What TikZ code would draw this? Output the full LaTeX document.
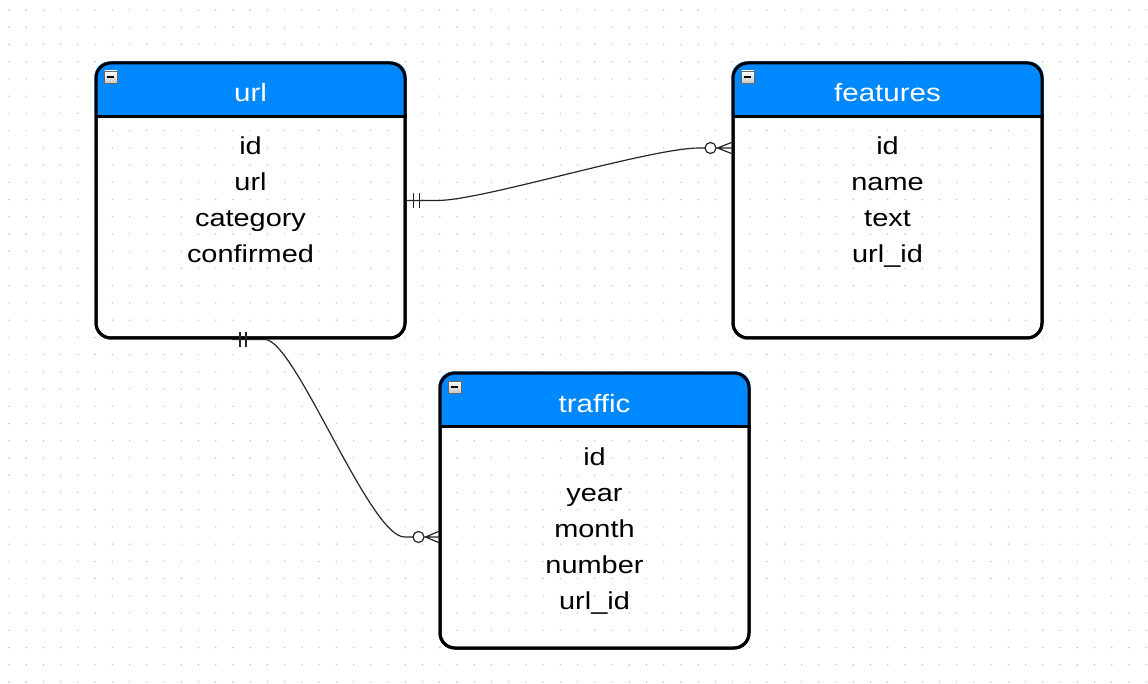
\documentclass[tikz,border=0pt]{standalone}
\usepackage{fontspec}
\newfontfamily\erfont[FakeStretch=1.18]{Liberation Sans}
\usetikzlibrary{calc}

\definecolor{headblue}{HTML}{0088FF}
\definecolor{griddot}{HTML}{C4C4C4}

\tikzset{
  tablebox/.style={draw=black, line width=3pt, rounded corners=15pt, inner sep=0pt,
    minimum width=309pt, minimum height=275pt, anchor=north west},
  headtext/.style={font=\erfont\fontsize{25}{29}\selectfont, text=white, anchor=base, inner sep=0pt},
  rowtext/.style={font=\erfont\fontsize{24.5}{29}\selectfont, text=black, anchor=base, inner sep=0pt},
  conn/.style={draw=black!85, line width=1.2pt},
  endmark/.style={draw=black!85, line width=1.2pt},
  ringmark/.style={draw=black!85, line width=1.2pt, fill=white},
  minusicon/.style={draw=gray!80!black, line width=0.8pt, top color=white, bottom color=gray!45},
}

% one entity table: name, top-left corner, title
\newcommand\ertable[3]{%
  \node[tablebox] (#1) at (#2) {};
  \fill[headblue] ($(#1.north west)+(0,55)$) [rounded corners=15pt] -- (#1.north west)
    -- (#1.north east) [sharp corners] -- ($(#1.north east)+(0,55)$) -- cycle;
  \node[tablebox] at (#2) {};
  \draw[line width=3pt] ($(#1.north west)+(0,55)$) -- ($(#1.north east)+(0,55)$);
  \path[minusicon] ($(#1.north west)+(10,9.5)$) rectangle ++(12.5,12.5);
  \draw[line width=1.8pt] ($(#1.north west)+(12.75,15.75)$) -- ++(7,0);
  \node[headtext] (#1-title) at ($(#1.north)+(0,40.5)$) {#3};
}

\begin{document}
\begin{tikzpicture}[x=1pt,y=-1pt]
  \useasboundingbox[fill=white] (0,0) rectangle (1148,684);

  % dotted background grid
  \foreach \i in {0,...,66}
    \foreach \j in {0,...,39}
      \fill[griddot] ({9+\i*17.23},{10+\j*17.23}) circle (0.8);

  % entities
  \ertable{url}{94.5,61.5}{url}
  \ertable{features}{731.5,61.5}{features}
  \ertable{traffic}{438.5,371.5}{traffic}

  \foreach \t [count=\k] in {id,url,category,confirmed}
    \node[rowtext] (url-r\k) at ($(url.north)+(0,57.5+36*\k)$) {\t};
  \foreach \t [count=\k] in {id,name,text,url\_id}
    \node[rowtext] (features-r\k) at ($(features.north)+(0,57.5+36*\k)$) {\t};
  \foreach \t [count=\k] in {id,year,month,number,url\_id}
    \node[rowtext] (traffic-r\k) at ($(traffic.north)+(0,57.5+36*\k)$) {\t};

  % relation url -- features (one to zero-or-many)
  \coordinate (a1) at (url.east);
  \coordinate (b1) at ($(features.north west)+(0,86.5)$);
  \draw[conn] (a1) -- ++(31,0) coordinate (p1)
    .. controls ($(p1)+(45,0)$) and ($(b1)+(-82,0)$) .. ($(b1)+(-32,0)$)
    -- ($(b1)+(-26.5,0)$);
  \draw[endmark] ($(a1)+(7,-7.5)$) -- ++(0,15) ($(a1)+(13,-7.5)$) -- ++(0,15);
  \draw[endmark] ($(b1)+(-15.5,0)$) -- (b1)
    ($(b1)+(-14,0)$) -- ($(b1)+(0,-5.5)$)
    ($(b1)+(-14,0)$) -- ($(b1)+(0,5.5)$);
  \draw[ringmark] ($(b1)+(-21,0)$) circle (5.5);

  % relation url -- traffic (one to zero-or-many)
  \coordinate (a2) at ($(url.south west)+(137.5,0)$);
  \coordinate (b2) at ($(traffic.north west)+(0,165.5)$);
  \draw[conn] (a2) -- ++(33,0) coordinate (p2)
    .. controls ($(p2)+(30,0)$) and ($(b2)+(-69,0)$) .. ($(b2)+(-34,0)$)
    -- ($(b2)+(-25.5,0)$);
  \draw[endmark] ($(a2)+(8,-7.5)$) -- ++(0,15) ($(a2)+(14,-7.5)$) -- ++(0,15);
  \draw[endmark] ($(b2)+(-14.5,0)$) -- (b2)
    ($(b2)+(-13,0)$) -- ($(b2)+(0,-5.5)$)
    ($(b2)+(-13,0)$) -- ($(b2)+(0,5.5)$);
  \draw[ringmark] ($(b2)+(-20,0)$) circle (5.5);
\end{tikzpicture}
\end{document}
